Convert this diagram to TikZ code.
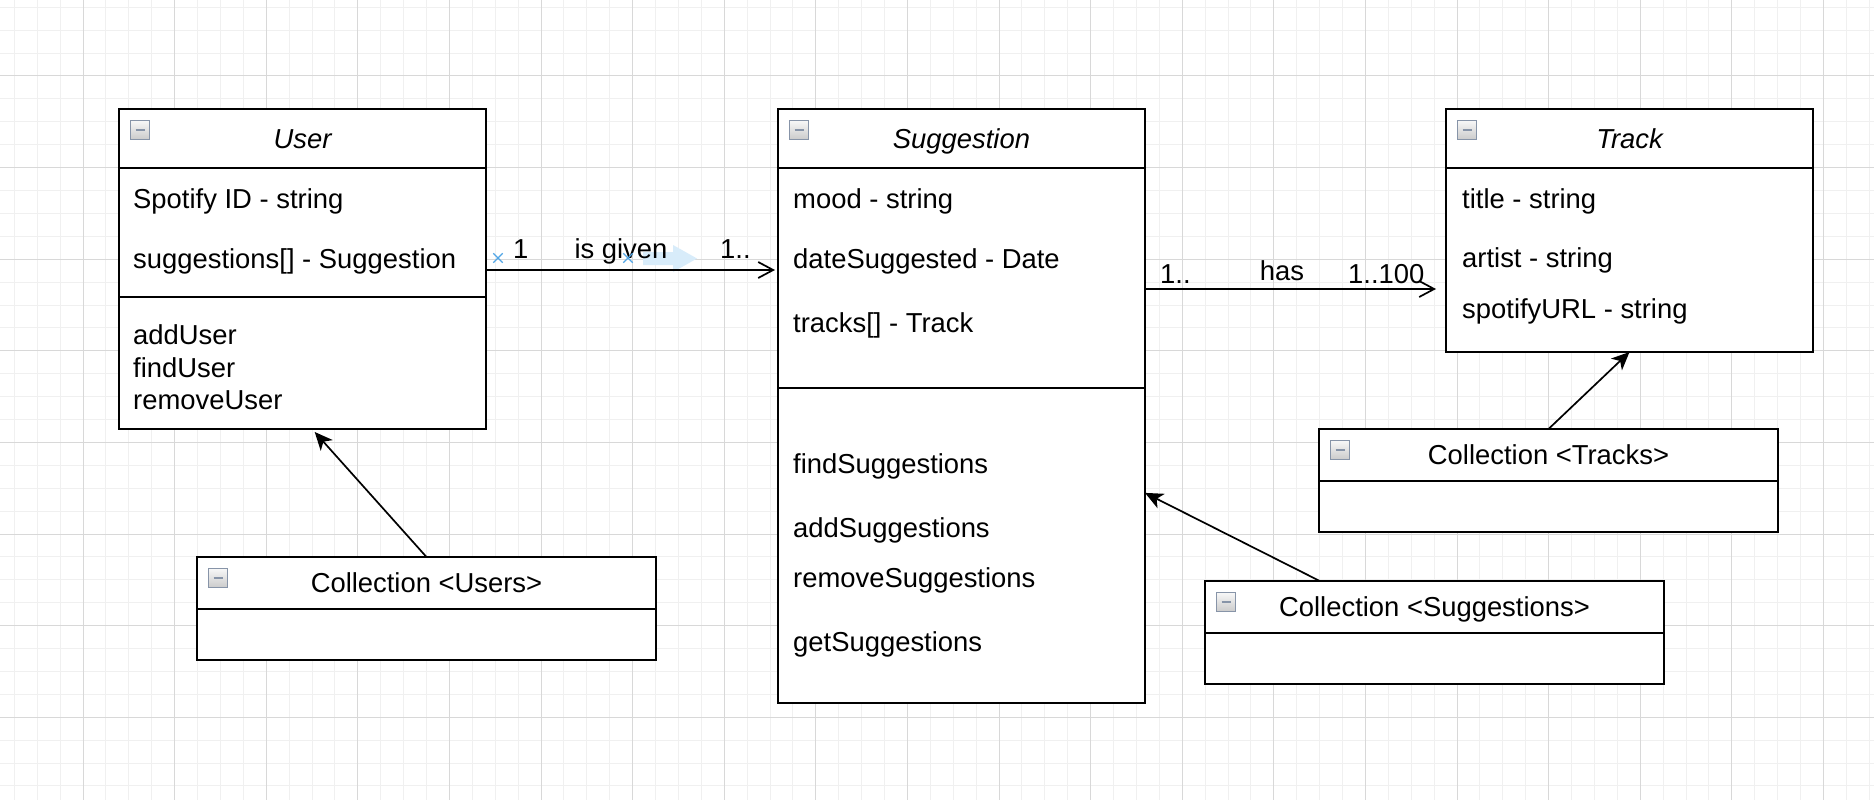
\documentclass[tikz,border=0pt]{standalone}
\usepackage{fontspec}
\setmainfont{Liberation Sans}
\usepackage{tikz}
\usetikzlibrary{positioning, calc, arrows.meta, shapes.misc}

\definecolor{gridminor}{RGB}{240,240,240}
\definecolor{gridmajor}{RGB}{216,216,216}
\definecolor{iconedge}{RGB}{135,148,168}
\definecolor{handleblue}{RGB}{80,165,230}
\definecolor{hintblue}{RGB}{216,236,250}

\begin{document}
\begin{tikzpicture}[x=1pt, y=-1pt, font=\fontsize{27.4}{33}\selectfont,
        classhead/.style={rectangle, draw, fill=white, line width=2pt, outer sep=0pt, inner sep=0pt, minimum width=367pt, minimum height=59pt, text height=19.6pt, text depth=0pt, font=\fontsize{27.4}{33}\selectfont\itshape},
        classpart/.style={rectangle, draw, fill=white, line width=2pt, outer sep=0pt, inner sep=0pt, minimum width=367pt},
        colhead/.style={classhead, minimum width=459pt, minimum height=52pt, font=\fontsize{27.4}{33}\selectfont},
        colbody/.style={classpart, minimum width=459pt, minimum height=51pt},
        member/.style={anchor=base west, inner sep=0pt},
        mult/.style={anchor=base west, inner sep=0pt},
        collapse/.style={rectangle, draw=iconedge, line width=1pt, top color=gray!5, bottom color=gray!40, minimum size=19pt, inner sep=0pt,
            path picture={\draw[line width=2pt] ([xshift=5pt]path picture bounding box.west) -- ([xshift=-5pt]path picture bounding box.east);}},
        handle/.style={cross out, draw=handleblue, line width=1.3pt, minimum size=8pt, inner sep=0pt},
        assoc/.style={draw, line width=1.7pt, -{Straight Barb[length=15pt, width=16pt]}},
        inherit/.style={draw, line width=1.7pt, -{Stealth[length=18pt, width=16pt, inset=5pt]}}]

        % Page and grid
        \useasboundingbox (0,0) rectangle (1874,800);
        \fill [white] (0,0) rectangle (1874,800);
        \foreach \k in {0,...,81}
            \draw [gridminor, line width=1pt] ({14.3+22.9*\k},0) -- ++(0,800);
        \foreach \k in {0,...,34}
            \draw [gridminor, line width=1pt] (0,{7.3+22.9*\k}) -- ++(1874,0);
        \foreach \k in {0,...,19}
            \draw [gridmajor, line width=1pt] ({83+91.6*\k},0) -- ++(0,800);
        \foreach \k in {0,...,7}
            \draw [gridmajor, line width=1pt] (0,{76+91.6*\k}) -- ++(1874,0);

        % Classes
        \node [classhead, anchor=north west] (user) at (119,109) {User};
        \node [classpart, minimum height=129pt, below=0pt of user] (userattr) {};
        \node [classpart, minimum height=132pt, below=0pt of userattr] (usermeth) {};

        \node [classhead, right=292pt of user] (suggestion) {Suggestion};
        \node [classpart, minimum height=220pt, below=0pt of suggestion] (suggattr) {};
        \node [classpart, minimum height=315pt, below=0pt of suggattr] (suggmeth) {};

        \node [classhead, right=301pt of suggestion] (track) {Track};
        \node [classpart, minimum height=184pt, below=0pt of track] (trackattr) {};

        % Collections
        \node [colhead, anchor=north west] (colusers) at (197,557) {Collection <Users>};
        \node [colbody, below=0pt of colusers] (colusersbody) {};
        \node [colhead, anchor=north west] (colsugg) at (1205,581) {Collection <Suggestions>};
        \node [colbody, below=0pt of colsugg] (colsuggbody) {};
        \node [colhead, anchor=north west] (coltracks) at (1319,429) {Collection <Tracks>};
        \node [colbody, below=0pt of coltracks] (coltracksbody) {};

        % Collapse buttons
        \foreach \cls in {user, suggestion, track, colusers, colsugg, coltracks}
            \node [collapse] (\cls-icon) at ([shift={(21,20.5)}]\cls.north west) {};

        % Attributes and operations
        \node [member] (spotifyid) at (133,208) {Spotify ID - string};
        \node [member] (usersugg) at (133,268) {suggestions[] - Suggestion};
        \node [member] (adduser) at (133,344) {addUser};
        \node [member] (finduser) at (133,377) {findUser};
        \node [member] (removeuser) at (133,409) {removeUser};

        \node [member] (mood) at (793,208) {mood - string};
        \node [member] (datesugg) at (793,268) {dateSuggested - Date};
        \node [member] (suggtracks) at (793,332) {tracks[] - Track};
        \node [member] (findsugg) at (793,473) {findSuggestions};
        \node [member] (addsugg) at (793,537) {addSuggestions};
        \node [member] (removesugg) at (793,587) {removeSuggestions};
        \node [member] (getsugg) at (793,651) {getSuggestions};

        \node [member] (title) at (1462,208) {title - string};
        \node [member] (artist) at (1462,267) {artist - string};
        \node [member] (spotifyurl) at (1462,318) {spotifyURL - string};

        % Associations
        \coordinate (givenstart) at ($(userattr.north east)+(0,102)$);
        \coordinate (hasstart) at ($(suggattr.north east)+(0,121)$);
        \fill [hintblue] (643,252) -- (673,252) -- (673,245) -- (697,258.5) -- (673,272) -- (673,265) -- (643,265) -- cycle;
        \path [assoc, shorten >=3pt] (givenstart) -- (givenstart -| suggattr.west);
        \path [assoc, shorten >=10pt] (hasstart) -- (hasstart -| trackattr.west);

        \node [mult] (givenfrom) at (513,258) {1};
        \node [mult, anchor=base] (givenlabel) at (621,258) {is given};
        \node [mult] (givento) at (720,258) {1..};
        \node [mult] (hasfrom) at (1160,283) {1..};
        \node [mult, anchor=base] (haslabel) at (1282,280) {has};
        \node [mult] (hasto) at (1348,283) {1..100};

        \node [handle] (givenhandlea) at (498,258) {};
        \node [handle] (givenhandleb) at (628,258) {};

        % Collections to classes
        \path [inherit, shorten >=4pt] (colusers.north) -- ($(usermeth.south west)!0.526!(usermeth.south east)$);
        \path [inherit] ($(colsugg.north west)!0.25!(colsugg.north east)$) -- ($(suggmeth.north east)!0.333!(suggmeth.south east)$);
        \path [inherit] (coltracks.north) -- (trackattr.south);

    \end{tikzpicture}
\end{document}
